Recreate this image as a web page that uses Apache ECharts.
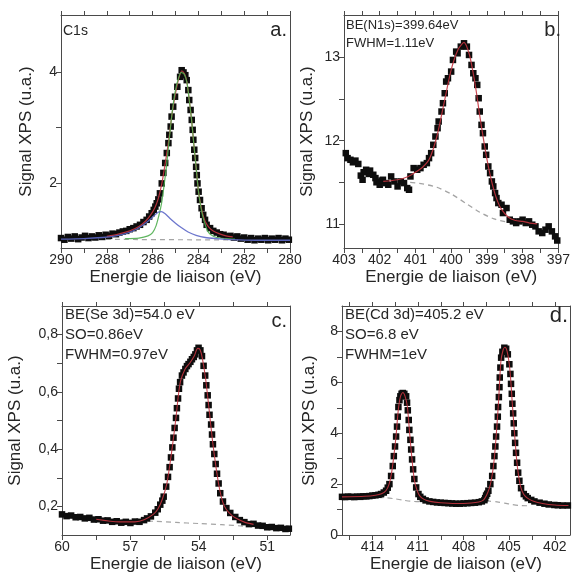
<!DOCTYPE html>
<html><head><meta charset="utf-8">
<script src="https://cdn.jsdelivr.net/npm/echarts@6/dist/echarts.min.js"></script>
<style>html,body{margin:0;padding:0;background:#fff}#c{width:573px;height:574px}</style>
</head><body><div id="c"></div>
<script>
// ---------- Panel a : C1s ----------
const aPoints = [[290.0,1.00],[289.85,0.97],[289.7,1.02],[289.55,0.99],[289.4,1.03],[289.25,0.98],[289.1,1.01],[288.95,1.04],[288.8,1.0],[288.65,1.03],[288.5,1.01],[288.35,1.05],[288.2,1.02],[288.05,1.06],[287.9,1.04],[287.75,1.08],[287.6,1.07],[287.45,1.1],[287.3,1.12],[287.15,1.13],[287.0,1.16],[286.84,1.18],[286.7,1.21],[286.55,1.24],[286.4,1.29],[286.26,1.33],[286.15,1.39],[286.04,1.45],[285.95,1.51],[285.88,1.57],[285.82,1.63],[285.75,1.70],[285.68,1.81],[285.6,1.99],[285.53,2.18],[285.45,2.36],[285.38,2.54],[285.31,2.72],[285.27,2.87],[285.21,3.02],[285.17,3.2],[285.1,3.38],[285.02,3.56],[284.92,3.74],[284.8,3.92],[284.73,4.04],[284.65,4.0],[284.57,3.95],[284.51,3.86],[284.44,3.68],[284.4,3.5],[284.34,3.32],[284.29,3.14],[284.25,2.96],[284.22,2.78],[284.18,2.6],[284.14,2.45],[284.1,2.29],[284.07,2.14],[284.04,1.99],[283.99,1.84],[283.93,1.69],[283.86,1.54],[283.79,1.42],[283.71,1.33],[283.64,1.24],[283.49,1.18],[283.35,1.13],[283.2,1.1],[283.05,1.07],[282.9,1.06],[282.75,1.03],[282.6,1.04],[282.45,1.01],[282.3,1.03],[282.15,0.99],[282.0,1.01],[281.85,0.97],[281.7,1.0],[281.55,0.96],[281.4,0.99],[281.25,0.97],[281.1,1.0],[280.95,0.96],[280.8,0.99],[280.65,0.97],[280.5,1.0],[280.35,0.96],[280.2,0.99],[280.05,0.97]];
const aFit = [[288.0,1.03],[287.5,1.07],[287.0,1.13],[286.6,1.21],[286.3,1.31],[286.1,1.41],[285.9,1.55],[285.75,1.72],[285.6,1.98],[285.45,2.35],[285.3,2.76],[285.15,3.25],[285.0,3.62],[284.85,3.9],[284.72,4.03],[284.6,3.97],[284.5,3.82],[284.4,3.5],[284.3,3.15],[284.2,2.7],[284.1,2.28],[284.0,1.86],[283.9,1.6],[283.8,1.42],[283.7,1.3],[283.55,1.2],[283.35,1.13],[283.1,1.08],[282.8,1.04],[282.5,1.02]];
const aGreen = [[287.2,0.99],[286.6,1.0],[286.2,1.04],[286.0,1.1],[285.85,1.22],[285.7,1.45],[285.6,1.65],[285.5,1.95],[285.4,2.28],[285.3,2.68],[285.2,3.08],[285.1,3.42],[285.0,3.68],[284.88,3.88],[284.75,4.0],[284.62,3.97],[284.5,3.82],[284.4,3.5],[284.3,3.15],[284.2,2.7],[284.1,2.28],[284.0,1.86],[283.9,1.58],[283.8,1.38],[283.7,1.24],[283.6,1.13],[283.45,1.06],[283.2,1.01],[282.8,0.99],[282.4,0.98]];
const aBlue = [[290,0.98],[289,0.99],[288.2,1.01],[287.6,1.04],[287.1,1.09],[286.7,1.16],[286.4,1.24],[286.1,1.34],[285.9,1.42],[285.75,1.47],[285.62,1.48],[285.45,1.44],[285.25,1.36],[285.0,1.27],[284.75,1.19],[284.45,1.11],[284.1,1.05],[283.7,1.01],[283.2,0.99],[282.5,0.97],[281.5,0.96],[280,0.96]];
const aBase = [[290,0.98],[280,0.96]];
const aXTicks = [280,281,282,283,284,285,286,287,288,289,290];
const aXLabels = [280,282,284,286,288,290];
const aYTicks = [2,3,4];
const aYLabels = [2,4];

// ---------- Panel b : N1s ----------
const bPoints = [[402.95,11.85],[402.9,11.79],[402.82,11.77],[402.75,11.74],[402.68,11.76],[402.6,11.72],[402.53,11.58],[402.48,11.53],[402.45,11.62],[402.38,11.65],[402.3,11.6],[402.27,11.64],[402.18,11.59],[402.12,11.55],[402.09,11.5],[402.0,11.47],[401.95,11.52],[401.91,11.53],[401.82,11.49],[401.76,11.47],[401.68,11.57],[401.59,11.51],[401.5,11.45],[401.41,11.51],[401.32,11.49],[401.23,11.43],[401.18,11.41],[401.14,11.57],[401.05,11.67],[400.95,11.65],[400.86,11.67],[400.77,11.71],[400.68,11.73],[400.62,11.79],[400.56,11.85],[400.5,11.95],[400.44,12.05],[400.38,12.15],[400.35,12.23],[400.27,12.35],[400.23,12.45],[400.18,12.57],[400.14,12.71],[400.09,12.75],[400.0,12.83],[399.95,12.97],[399.86,13.07],[399.82,13.05],[399.73,13.13],[399.64,13.17],[399.56,13.13],[399.5,13.03],[399.43,12.91],[399.38,12.81],[399.32,12.75],[399.27,12.67],[399.23,12.51],[399.2,12.35],[399.15,12.19],[399.11,12.09],[399.06,11.93],[399.02,11.83],[398.96,11.69],[398.91,11.61],[398.86,11.51],[398.82,11.45],[398.77,11.37],[398.73,11.31],[398.68,11.25],[398.59,11.23],[398.55,11.13],[398.45,11.19],[398.36,11.05],[398.27,11.03],[398.18,11.01],[398.09,11.03],[398.0,11.05],[397.91,11.01],[397.82,11.03],[397.73,10.99],[397.64,10.97],[397.55,10.91],[397.45,10.89],[397.36,10.93],[397.27,10.97],[397.18,10.91],[397.09,10.85],[397.03,10.8]];
const bFit = [[401.9,11.51],[401.5,11.53],[401.2,11.57],[401.0,11.62],[400.8,11.68],[400.6,11.79],[400.4,12.05],[400.2,12.45],[400.0,12.85],[399.8,13.1],[399.64,13.18],[399.5,13.05],[399.4,12.85],[399.3,12.6],[399.2,12.3],[399.1,12.03],[399.0,11.78],[398.9,11.57],[398.8,11.4],[398.7,11.27],[398.6,11.18],[398.4,11.08],[398.2,11.04],[398.0,11.03],[397.8,11.01],[397.6,11.0]];
const bBase = [[401.9,11.5],[401.2,11.5],[400.8,11.48],[400.4,11.44],[400.0,11.36],[399.6,11.25],[399.2,11.14],[398.8,11.06],[398.4,11.02],[398.0,11.0],[397.6,10.99]];
const bXTicks = [397,397.5,398,398.5,399,399.5,400,400.5,401,401.5,402,402.5,403];
const bXLabels = [397,398,399,400,401,402,403];
const bYTicks = [11,11.5,12,12.5,13];
const bYLabels = [11,12,13];

// ---------- Panel c : Se 3d ----------
const cPoints = [[60.0,0.172],[59.8,0.166],[59.6,0.168],[59.4,0.162],[59.2,0.163],[59.0,0.158],[58.8,0.16],[58.6,0.154],[58.4,0.155],[58.2,0.15],[58.0,0.151],[57.8,0.146],[57.6,0.148],[57.4,0.143],[57.2,0.146],[57.0,0.142],[56.8,0.147],[56.6,0.146],[56.4,0.152],[56.27,0.158],[56.1,0.165],[55.91,0.178],[55.8,0.19],[55.69,0.206],[55.6,0.22],[55.54,0.234],[55.43,0.269],[55.35,0.303],[55.28,0.337],[55.22,0.371],[55.16,0.406],[55.11,0.44],[55.06,0.474],[55.0,0.509],[54.96,0.543],[54.91,0.577],[54.87,0.611],[54.82,0.634],[54.74,0.657],[54.67,0.668],[54.59,0.68],[54.52,0.69],[54.45,0.697],[54.37,0.705],[54.3,0.714],[54.22,0.722],[54.15,0.731],[54.08,0.745],[54.01,0.754],[53.93,0.745],[53.86,0.725],[53.79,0.691],[53.72,0.657],[53.67,0.623],[53.61,0.588],[53.57,0.554],[53.53,0.52],[53.46,0.486],[53.42,0.451],[53.38,0.417],[53.32,0.383],[53.26,0.348],[53.2,0.314],[53.13,0.28],[53.06,0.246],[52.94,0.217],[52.79,0.194],[52.62,0.177],[52.4,0.163],[52.2,0.152],[52.0,0.145],[51.8,0.138],[51.6,0.139],[51.4,0.133],[51.2,0.132],[51.0,0.127],[50.8,0.128],[50.6,0.124],[50.4,0.125],[50.2,0.121],[50.05,0.122]];
const cFit = [[58.5,0.155],[57.5,0.146],[56.8,0.146],[56.4,0.153],[56.0,0.172],[55.8,0.19],[55.6,0.225],[55.4,0.28],[55.2,0.385],[55.0,0.51],[54.9,0.585],[54.8,0.638],[54.6,0.68],[54.4,0.7],[54.2,0.725],[54.05,0.752],[53.95,0.748],[53.85,0.72],[53.7,0.645],[53.55,0.54],[53.4,0.43],[53.25,0.34],[53.1,0.265],[52.95,0.215],[52.8,0.19],[52.6,0.172],[52.4,0.16],[52.0,0.145],[51.6,0.137]];
const cBase = [[58.2,0.155],[57,0.151],[56,0.148],[55,0.144],[54,0.14],[53,0.136],[52,0.131],[51.5,0.129]];
const cXTicks = [51,52.5,54,55.5,57,58.5,60];
const cXLabels = [51,54,57,60];
const cYTicks = [0.2,0.3,0.4,0.5,0.6,0.7,0.8];
const cYLabels = [0.2,0.4,0.6,0.8];

// ---------- Panel d : Cd 3d ----------
const dPoints = [[416.0,1.5],[415.8,1.49],[415.6,1.51],[415.4,1.5],[415.2,1.49],[415.0,1.51],[414.8,1.5],[414.6,1.52],[414.4,1.52],[414.2,1.53],[414.0,1.55],[413.8,1.56],[413.6,1.58],[413.43,1.61],[413.25,1.67],[413.1,1.74],[412.99,1.86],[412.88,2.0],[412.77,2.32],[412.66,2.71],[412.59,3.1],[412.51,3.48],[412.44,3.87],[412.38,4.26],[412.33,4.65],[412.29,5.03],[412.22,5.3],[412.16,5.45],[412.08,5.55],[412.0,5.58],[411.9,5.55],[411.78,5.45],[411.72,5.2],[411.67,4.9],[411.61,4.52],[411.57,4.13],[411.5,3.74],[411.45,3.36],[411.39,2.97],[411.32,2.58],[411.24,2.2],[411.12,1.87],[410.97,1.61],[410.85,1.5],[410.68,1.42],[410.5,1.36],[410.25,1.32],[410.0,1.3],[409.75,1.28],[409.5,1.27],[409.25,1.26],[409.0,1.25],[408.75,1.24],[408.5,1.23],[408.25,1.23],[408.0,1.24],[407.75,1.25],[407.5,1.26],[407.25,1.27],[407.0,1.29],[406.8,1.32],[406.63,1.37],[406.58,1.45],[406.52,1.55],[406.45,1.62],[406.37,1.74],[406.24,2.0],[406.12,2.32],[406.04,2.71],[405.97,3.1],[405.91,3.48],[405.86,3.87],[405.8,4.26],[405.75,4.65],[405.73,5.03],[405.68,5.42],[405.64,5.81],[405.62,6.19],[405.58,6.58],[405.53,6.97],[405.45,7.2],[405.32,7.36],[405.2,7.32],[405.09,7.1],[404.99,6.71],[404.92,6.33],[404.88,5.94],[404.83,5.55],[404.79,5.16],[404.74,4.78],[404.7,4.39],[404.66,4.0],[404.61,3.62],[404.55,3.23],[404.48,2.84],[404.41,2.45],[404.33,2.13],[404.22,1.84],[404.04,1.61],[403.9,1.52],[403.78,1.45],[403.55,1.38],[403.34,1.32],[403.0,1.27],[402.68,1.23],[402.4,1.2],[402.03,1.18],[401.8,1.17],[401.5,1.16],[401.14,1.16]];
const dFit = [[416,1.5],[414.5,1.52],[413.8,1.56],[413.4,1.62],[413.1,1.75],[412.9,2.0],[412.75,2.4],[412.6,3.05],[412.45,3.85],[412.3,4.9],[412.15,5.45],[412.0,5.6],[411.85,5.45],[411.7,5.05],[411.55,4.0],[411.4,3.0],[411.25,2.2],[411.1,1.82],[410.9,1.55],[410.6,1.4],[410.2,1.32],[409.5,1.27],[408.5,1.24],[407.5,1.26],[407.0,1.3],[406.7,1.37],[406.5,1.55],[406.3,1.85],[406.15,2.25],[406.0,2.9],[405.85,3.95],[405.7,5.25],[405.55,6.8],[405.4,7.28],[405.28,7.38],[405.15,7.25],[405.0,6.75],[404.9,6.1],[404.8,5.2],[404.7,4.4],[404.6,3.6],[404.5,2.9],[404.4,2.4],[404.25,1.9],[404.05,1.6],[403.8,1.45],[403.4,1.33],[402.8,1.24],[402.0,1.18],[401.1,1.16]];
const dBase = [[413.6,1.48],[413.0,1.46],[412.5,1.42],[412.0,1.37],[411.5,1.33],[411.0,1.31],[410.0,1.31],[409,1.32],[408,1.34],[407,1.35],[406.3,1.33],[405.8,1.3],[405.3,1.25],[404.8,1.2],[404.3,1.16],[403.8,1.15]];
const dXTicks = [402,403.5,405,406.5,408,409.5,411,412.5,414,415.5];
const dXLabels = [402,405,408,411,414];
const dYTicks = [0,1,2,3,4,5,6,7,8];
const dYLabels = [0,2,4,6,8];

// ---------- build ----------
const FONT = '"Liberation Sans", Arial, sans-serif';
const TXT = '#262626';
const AX = '#4a4a4a';
const RED = '#c4343f', GREEN = '#4fae4f', BLUE = '#5d68c8', GRAY = '#9a9a9a';

const grids = [
  {left:61, top:15, width:229, height:233},
  {left:344, top:15, width:220, height:233},
  {left:62, top:306, width:228, height:232},
  {left:342, top:306, width:228, height:231}
];
const panels = [
  {xr:[280,290], yr:[0.82,5.04], xt:aXTicks, xl:aXLabels, yt:aYTicks, yl:aYLabels, fmt:v=>String(v), yGap:26},
  {xr:[397,403], yr:[10.71,13.51], xt:bXTicks, xl:bXLabels, yt:bYTicks, yl:bYLabels, fmt:v=>String(v), yGap:28},
  {xr:[50,60], yr:[0.1,0.9], xt:cXTicks, xl:cXLabels, yt:cYTicks, yl:cYLabels, fmt:v=>v.toFixed(1).replace('.',','), yGap:38},
  {xr:[401,416], yr:[0,9], xt:dXTicks, xl:dXLabels, yt:dYTicks, yl:dYLabels, fmt:v=>String(v), yGap:24}
];
const xAxis = [], yAxis = [];
panels.forEach((p,i)=>{
  const line = {show:true, onZero:false, lineStyle:{color:AX, width:1}};
  xAxis.push({type:'value', gridIndex:i, position:'bottom', inverse:true, min:p.xr[0], max:p.xr[1],
    axisLine:line, splitLine:{show:false},
    axisTick:{show:true, customValues:p.xt, length:5, lineStyle:{color:AX}},
    axisLabel:{show:true, customValues:p.xl, fontSize:14, color:TXT, fontFamily:FONT, margin:5},
    name:'Energie de liaison (eV)', nameLocation:'middle', nameGap:21,
    nameTextStyle:{fontSize:17, color:TXT, fontFamily:FONT}});
  xAxis.push({type:'value', gridIndex:i, position:'top', inverse:true, min:p.xr[0], max:p.xr[1],
    axisLine:line, splitLine:{show:false},
    axisTick:{show:true, customValues:p.xt, length:4, lineStyle:{color:AX}},
    axisLabel:{show:false}});
  yAxis.push({type:'value', gridIndex:i, position:'left', min:p.yr[0], max:p.yr[1],
    axisLine:line, splitLine:{show:false},
    axisTick:{show:true, customValues:p.yt, length:5, lineStyle:{color:AX}},
    axisLabel:{show:true, customValues:p.yl, fontSize:14, color:TXT, fontFamily:FONT, margin:4, formatter:p.fmt},
    name:'Signal XPS (u.a.)', nameLocation:'middle', nameGap:p.yGap, nameRotate:90,
    nameTextStyle:{fontSize:17, color:TXT, fontFamily:FONT}});
  yAxis.push({type:'value', gridIndex:i, position:'right', min:p.yr[0], max:p.yr[1],
    axisLine:line, splitLine:{show:false}, axisTick:{show:false}, axisLabel:{show:false}});
});

function pts(i, data){ return {type:'scatter', xAxisIndex:2*i, yAxisIndex:2*i, data, symbol:'rect', symbolSize:6.5,
  itemStyle:{color:'#0d0d0d', opacity:1}, z:3, silent:true}; }
function ln(i, data, color, w, dashed, z){ return {type:'line', xAxisIndex:2*i, yAxisIndex:2*i, data, symbol:'none',
  smooth:0.25, lineStyle:{color, width:w, type: dashed ? [5,4] : 'solid', opacity:0.9}, z, silent:true}; }

const series = [
  ln(0,aBase,GRAY,1.2,true,2), pts(0,aPoints), ln(0,aFit,RED,1.2,false,4), ln(0,aGreen,GREEN,1.2,false,5), ln(0,aBlue,BLUE,1.3,false,5),
  ln(1,bBase,GRAY,1.3,true,2), pts(1,bPoints), ln(1,bFit,RED,1.2,false,4),
  ln(2,cBase,GRAY,1.2,true,2), pts(2,cPoints), ln(2,cFit,RED,1.1,false,4),
  ln(3,dBase,GRAY,1.2,true,2), pts(3,dPoints), ln(3,dFit,RED,1.1,false,4)
];

function txt(x,y,text,size,align){ return {type:'text', x, y, z:10, silent:true,
  style:{text, font:size+'px '+FONT, fill:TXT, textAlign:align||'left', textVerticalAlign:'middle', align:align||'left', verticalAlign:'middle'}}; }
const graphic = [
  txt(63,31,'C1s',14), txt(287,30,'a.',20,'right'),
  txt(346,25,'BE(N1s)=399.64eV',13), txt(346,43,'FWHM=1.11eV',13), txt(561,30,'b.',20,'right'),
  txt(65,315,'BE(Se 3d)=54.0 eV',15), txt(65,335,'SO=0.86eV',15), txt(65,355,'FWHM=0.97eV',15), txt(287,321,'c.',20,'right'),
  txt(345,315,'BE(Cd 3d)=405.2 eV',15), txt(345,335,'SO=6.8 eV',15), txt(345,355,'FWHM=1eV',15), txt(568,316,'d.',22,'right')
];

const chart = echarts.init(document.getElementById('c'), null, {renderer:'canvas'});
chart.setOption({animation:false, backgroundColor:'#fff', grid:grids, xAxis, yAxis, series, graphic});
</script></body></html>
